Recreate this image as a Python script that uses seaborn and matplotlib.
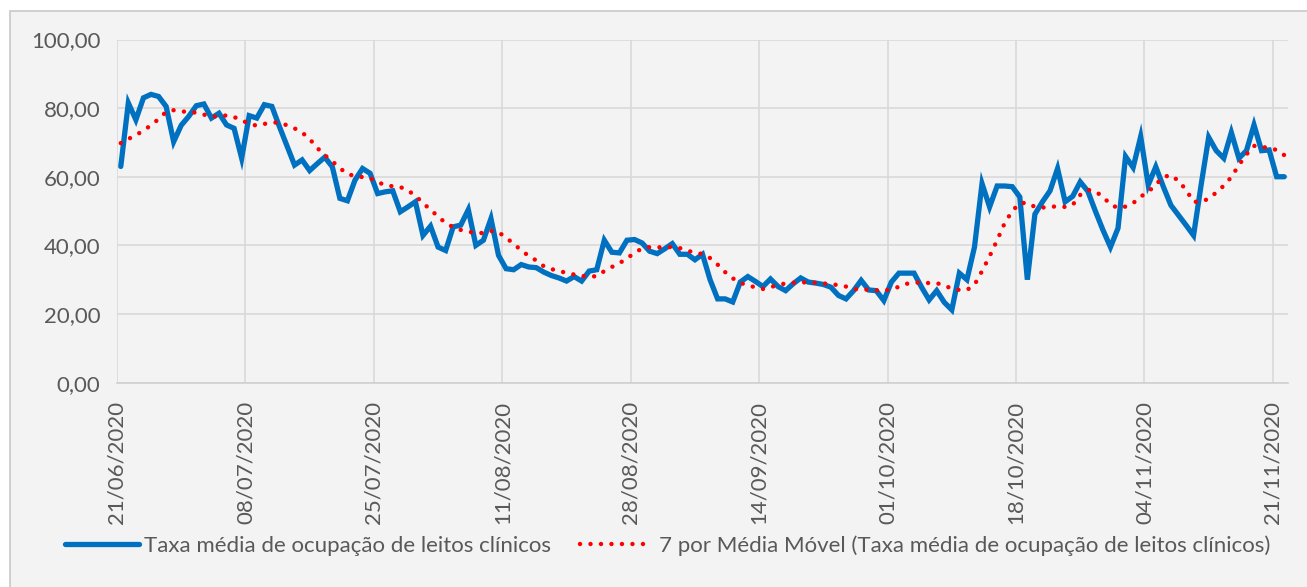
import pandas as pd
import seaborn as sns
import matplotlib.pyplot as plt
import matplotlib.dates as mdates
from matplotlib.patches import Rectangle
from matplotlib.ticker import FuncFormatter

# daily values, 21/06/2020 .. 22/11/2020
taxa = [
    63.0, 81.5, 76.6, 83.0, 84.0, 83.4, 80.5, 70.2, 75.0, 77.6,
    80.7, 81.2, 77.1, 78.5, 75.1, 74.1, 65.4, 77.8, 77.1, 81.0,
    80.5, 74.6, 69.0, 63.4, 64.9, 61.8, 63.8, 65.7, 62.9, 53.7,
    53.0, 59.0, 62.4, 61.0, 55.1, 55.6, 55.9, 49.8, 51.2, 52.7,
    42.9, 45.6, 39.5, 38.5, 45.4, 45.9, 50.4, 40.0, 41.5, 47.8,
    37.1, 33.2, 32.9, 34.4, 33.7, 33.5, 32.2, 31.2, 30.5, 29.6,
    30.9, 29.6, 32.5, 32.9, 41.5, 38.0, 37.8, 41.5, 41.7, 40.7,
    38.3, 37.6, 39.0, 40.5, 37.4, 37.4, 35.8, 37.4, 30.0, 24.4,
    24.4, 23.5, 29.3, 30.9, 29.5, 28.0, 30.2, 28.0, 26.8, 28.8,
    30.5, 29.3, 29.0, 28.6, 27.8, 25.4, 24.4, 26.8, 29.8, 27.0,
    26.8, 23.9, 29.3, 31.9, 31.9, 31.9, 27.8, 24.1, 26.8, 23.4,
    21.2, 31.9, 30.0, 39.5, 58.0, 51.2, 57.3, 57.3, 57.1, 54.1,
    30.0, 49.1, 52.7, 55.9, 62.4, 52.7, 54.3, 58.5, 55.8, 50.0,
    44.5, 39.5, 45.0, 65.9, 62.7, 71.7, 57.6, 62.9, 57.1, 51.7,
    48.8, 45.9, 42.9, 57.6, 71.5, 67.6, 65.4, 72.9, 65.4, 67.6,
    75.1, 67.6, 67.8, 60.0, 60.0,
]

media_movel = [
    69.8, 71.0, 72.1, 73.5, 75.0, 76.8, 78.9, 79.4, 79.1, 78.8,
    78.7, 78.1, 77.6, 77.5, 77.9, 77.4, 76.5, 75.4, 74.9, 75.4,
    75.8, 75.8, 75.0, 74.1, 72.9, 71.0, 68.4, 66.3, 64.5, 62.5,
    60.8, 60.2, 59.9, 59.6, 58.4, 57.6, 57.2, 57.0, 56.0, 54.5,
    52.3, 50.4, 48.4, 46.5, 45.3, 44.5, 44.0, 43.6, 43.6, 44.2,
    43.8, 42.3, 40.4, 38.6, 36.9, 35.6, 33.9, 33.1, 32.5, 32.0,
    31.5, 31.1, 30.9, 31.0, 32.5, 33.7, 34.8, 36.2, 37.8, 39.1,
    39.5, 39.5, 39.3, 39.6, 39.2, 38.5, 37.8, 37.5, 36.3, 34.4,
    32.2, 30.4, 29.1, 28.3, 27.8, 27.3, 27.8, 28.5, 28.9, 29.1,
    29.2, 29.2, 29.1, 28.9, 28.7, 28.4, 28.0, 27.3, 27.1, 27.1,
    26.9, 26.7, 27.3, 27.9, 28.8, 29.1, 29.2, 29.0, 29.0, 28.3,
    27.4, 27.0, 27.0, 28.5, 32.5, 36.8, 41.5, 46.5, 50.0, 52.3,
    52.4, 51.2, 51.0, 51.3, 51.3, 51.2, 51.8, 54.7, 56.2, 55.7,
    54.2, 51.9, 50.9, 51.3, 52.3, 54.2, 55.6, 57.7, 59.9, 60.5,
    58.8, 56.2, 52.7, 52.7, 53.6, 55.4, 57.4, 59.9, 63.4, 66.5,
    69.0, 68.7, 68.4, 67.8, 66.3,
]

start = '2020-06-21'
tick_step = 17  # days between date labels
y_ticks = [0, 20, 40, 60, 80, 100]

label_taxa = 'Taxa média de ocupação de leitos clínicos'
label_mm = '7 por Média Móvel (Taxa média de ocupação de leitos clínicos)'

# points sit in the middle of each day, like the Excel date axis
df = pd.DataFrame({
    'data': pd.date_range(start, periods=len(taxa), freq='D') + pd.Timedelta(hours=12),
    'taxa': taxa,
    'mm': media_movel,
})

sns.set_style('white')
plt.rcParams['font.family'] = ['Lato', 'DejaVu Sans']
grey_txt = '#595959'
bg = '#F3F3F3'

fig = plt.figure(figsize=(13.07, 5.87), dpi=100, facecolor='white')
# chart area box (runs past the right/bottom edge like the cropped original)
fig.patches.append(Rectangle((10 / 1307, -0.05), 1.1, 1 - 11 / 587 + 0.05,
                             transform=fig.transFigure, facecolor=bg,
                             edgecolor='#C8C8C8', linewidth=1.2, zorder=-10))

ax = fig.add_axes([117 / 1307, 1 - 382.6 / 587, (1288 - 117) / 1307, (382.6 - 39.5) / 587])
ax.set_facecolor(bg)

sns.lineplot(data=df, x='data', y='taxa', ax=ax, color='#0070C0', linewidth=3.8,
             solid_joinstyle='miter', zorder=3)
sns.lineplot(data=df, x='data', y='mm', ax=ax, color='#FF0000', linewidth=3.2,
             linestyle=(0, (0.01, 2.35)), dash_capstyle='round', zorder=4)

d0 = pd.Timestamp(start)
ax.set_xlim(d0, d0 + pd.Timedelta(days=155))
ax.set_ylim(0, 100)
ax.set_yticks(y_ticks)
ax.yaxis.set_major_formatter(FuncFormatter(lambda v, p: f'{v:.2f}'.replace('.', ',')))
ax.set_xticks(pd.date_range(start, '2020-11-21', freq=f'{tick_step}D'))
ax.xaxis.set_major_formatter(mdates.DateFormatter('%d/%m/%Y'))

ax.grid(True, color='#D9D9D9', linewidth=1.2)
ax.set_axisbelow(True)
for s in ['top', 'right', 'left']:
    ax.spines[s].set_visible(False)
ax.spines['bottom'].set_color('#D0D0D0')
ax.spines['bottom'].set_linewidth(1.2)
ax.tick_params(axis='x', rotation=90, length=5, color='#D0D0D0', labelsize=16,
               labelcolor=grey_txt, pad=8)
ax.tick_params(axis='y', length=0, labelsize=16, labelcolor=grey_txt, pad=12)
ax.set_xlabel('')
ax.set_ylabel('')

handles = ax.get_lines()[:2]
fig.legend(handles, [label_taxa, label_mm], loc='center', bbox_to_anchor=(0.511, 0.071),
           ncol=2, frameon=False, fontsize=16, labelcolor=grey_txt,
           handlelength=3.3, handletextpad=0.25, columnspacing=1.3)

fig.savefig('out.png', dpi=100, facecolor='white')
